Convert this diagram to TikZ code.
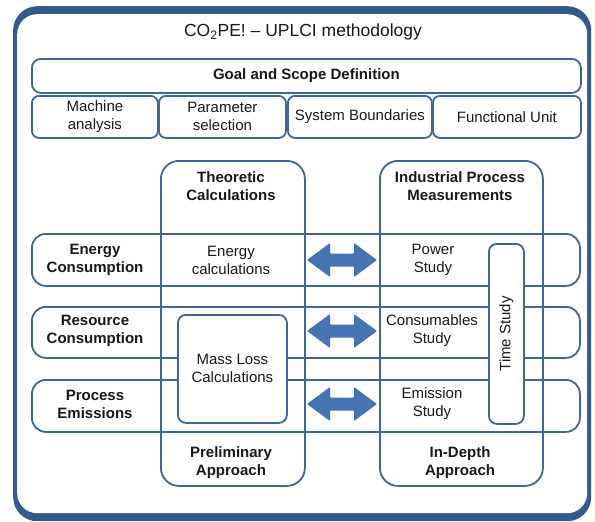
\documentclass[tikz,border=0pt]{standalone}
\usepackage{fontspec}
\setmainfont{Liberation Sans}

\definecolor{lineblue}{RGB}{64,102,152}
\definecolor{frameblue}{RGB}{52,90,140}
\definecolor{arrowblue}{RGB}{70,116,178}
\definecolor{textgray}{RGB}{25,25,25}

% double block arrow between two columns
\newcommand{\linkarrow}[3]{%
  \coordinate (#1) at (#2,#3);
  \fill[arrowblue, shift={(#1)}, rounded corners=0.8pt]
    (-35,0) -- (-12,-17) -- (-12,-6.5) -- (12,-6.5) -- (12,-17) -- (35,0)
    -- (12,17) -- (12,6.5) -- (-12,6.5) -- (-12,17) -- cycle;}

\begin{document}
\begin{tikzpicture}[x=1pt,y=-1pt,
  cellbox/.style={draw=lineblue, line width=1.8pt, rounded corners=#1,
    anchor=north west, inner sep=0pt},
  cellbox/.default=7pt,
  plainbox/.style={cellbox=#1, fill=white},
  plainbox/.default=7pt,
  txt/.style={align=center, text=textgray, font=\fontsize{15}{18}\selectfont},
  hdr/.style={txt, font=\fontsize{15}{18}\selectfont\bfseries}]
\useasboundingbox (0,0) rectangle (595,522);

% outer frame
\node[fill=frameblue, rounded corners=24pt, anchor=north west,
  minimum width=578pt, minimum height=515pt] (outer) at (13,6) {};
\node[fill=white, rounded corners=20pt, anchor=north west,
  minimum width=570pt, minimum height=499pt] (inner) at (17,14) {};
\node[txt, font=\fontsize{17.5}{20}\selectfont] (title) at (303,32) {CO\textsubscript{2}PE! -- UPLCI methodology};

% goal and scope
\node[cellbox=9pt, minimum width=549pt, minimum height=34pt] (goal) at (31,58) {};
\node[hdr] at (goal.center) {Goal and Scope Definition};
\node[cellbox, minimum width=126pt, minimum height=42pt] (machine) at (31,95) {};
\node[cellbox, minimum width=127pt, minimum height=42pt] (param) at (158,95) {};
\node[cellbox, minimum width=144pt, minimum height=42pt] (sysb) at (287,95) {};
\node[cellbox, minimum width=148pt, minimum height=42pt] (funit) at (432,95) {};
\node[txt] at (machine.center) {Machine\\analysis};
\node[txt] at (param.center) {Parameter\\selection};
\node[txt] at (sysb.center) {System Boundaries};
\node[txt] at (funit.center) {Functional Unit};

% rows
\node[cellbox=14pt, minimum width=548pt, minimum height=52pt] (energy) at (31,233) {};
\node[cellbox=14pt, minimum width=548pt, minimum height=51pt] (resource) at (31,306) {};
\node[cellbox=14pt, minimum width=548pt, minimum height=52pt] (process) at (31,379) {};

% columns
\node[cellbox=18pt, minimum width=144pt, minimum height=325pt] (theo) at (160,160) {};
\node[cellbox=18pt, minimum width=163pt, minimum height=325pt] (ipm) at (379,160) {};

% inner boxes
\node[plainbox=8pt, minimum width=109pt, minimum height=108pt] (massloss) at (177,314) {};
\node[plainbox=8pt, minimum width=35pt, minimum height=180pt] (time) at (488,243) {};

% labels
\node[hdr] at (231,186) {Theoretic\\Calculations};
\node[hdr] at (460,186) {Industrial Process\\Measurements};
\node[hdr] at (231,463) {Preliminary\\Approach};
\node[hdr] at (460,463) {In-Depth\\Approach};
\node[hdr] at (95,260) {Energy\\Consumption};
\node[hdr] at (95,331) {Resource\\Consumption};
\node[hdr] at (95,404) {Process\\Emissions};
\node[txt] (ecalc) at (231,260) {Energy\\calculations};
\node[txt] at (massloss.center) {Mass Loss\\Calculations};
\node[txt] (power) at (433,260) {Power\\Study};
\node[txt] (consum) at (432,331) {Consumables\\Study};
\node[txt] (emis) at (432,404) {Emission\\Study};
\node[txt, rotate=90] at (time.center) {Time Study};

% links
\linkarrow{arrE}{342}{260}
\linkarrow{arrR}{342}{331}
\linkarrow{arrP}{342}{404}
\end{tikzpicture}
\end{document}
